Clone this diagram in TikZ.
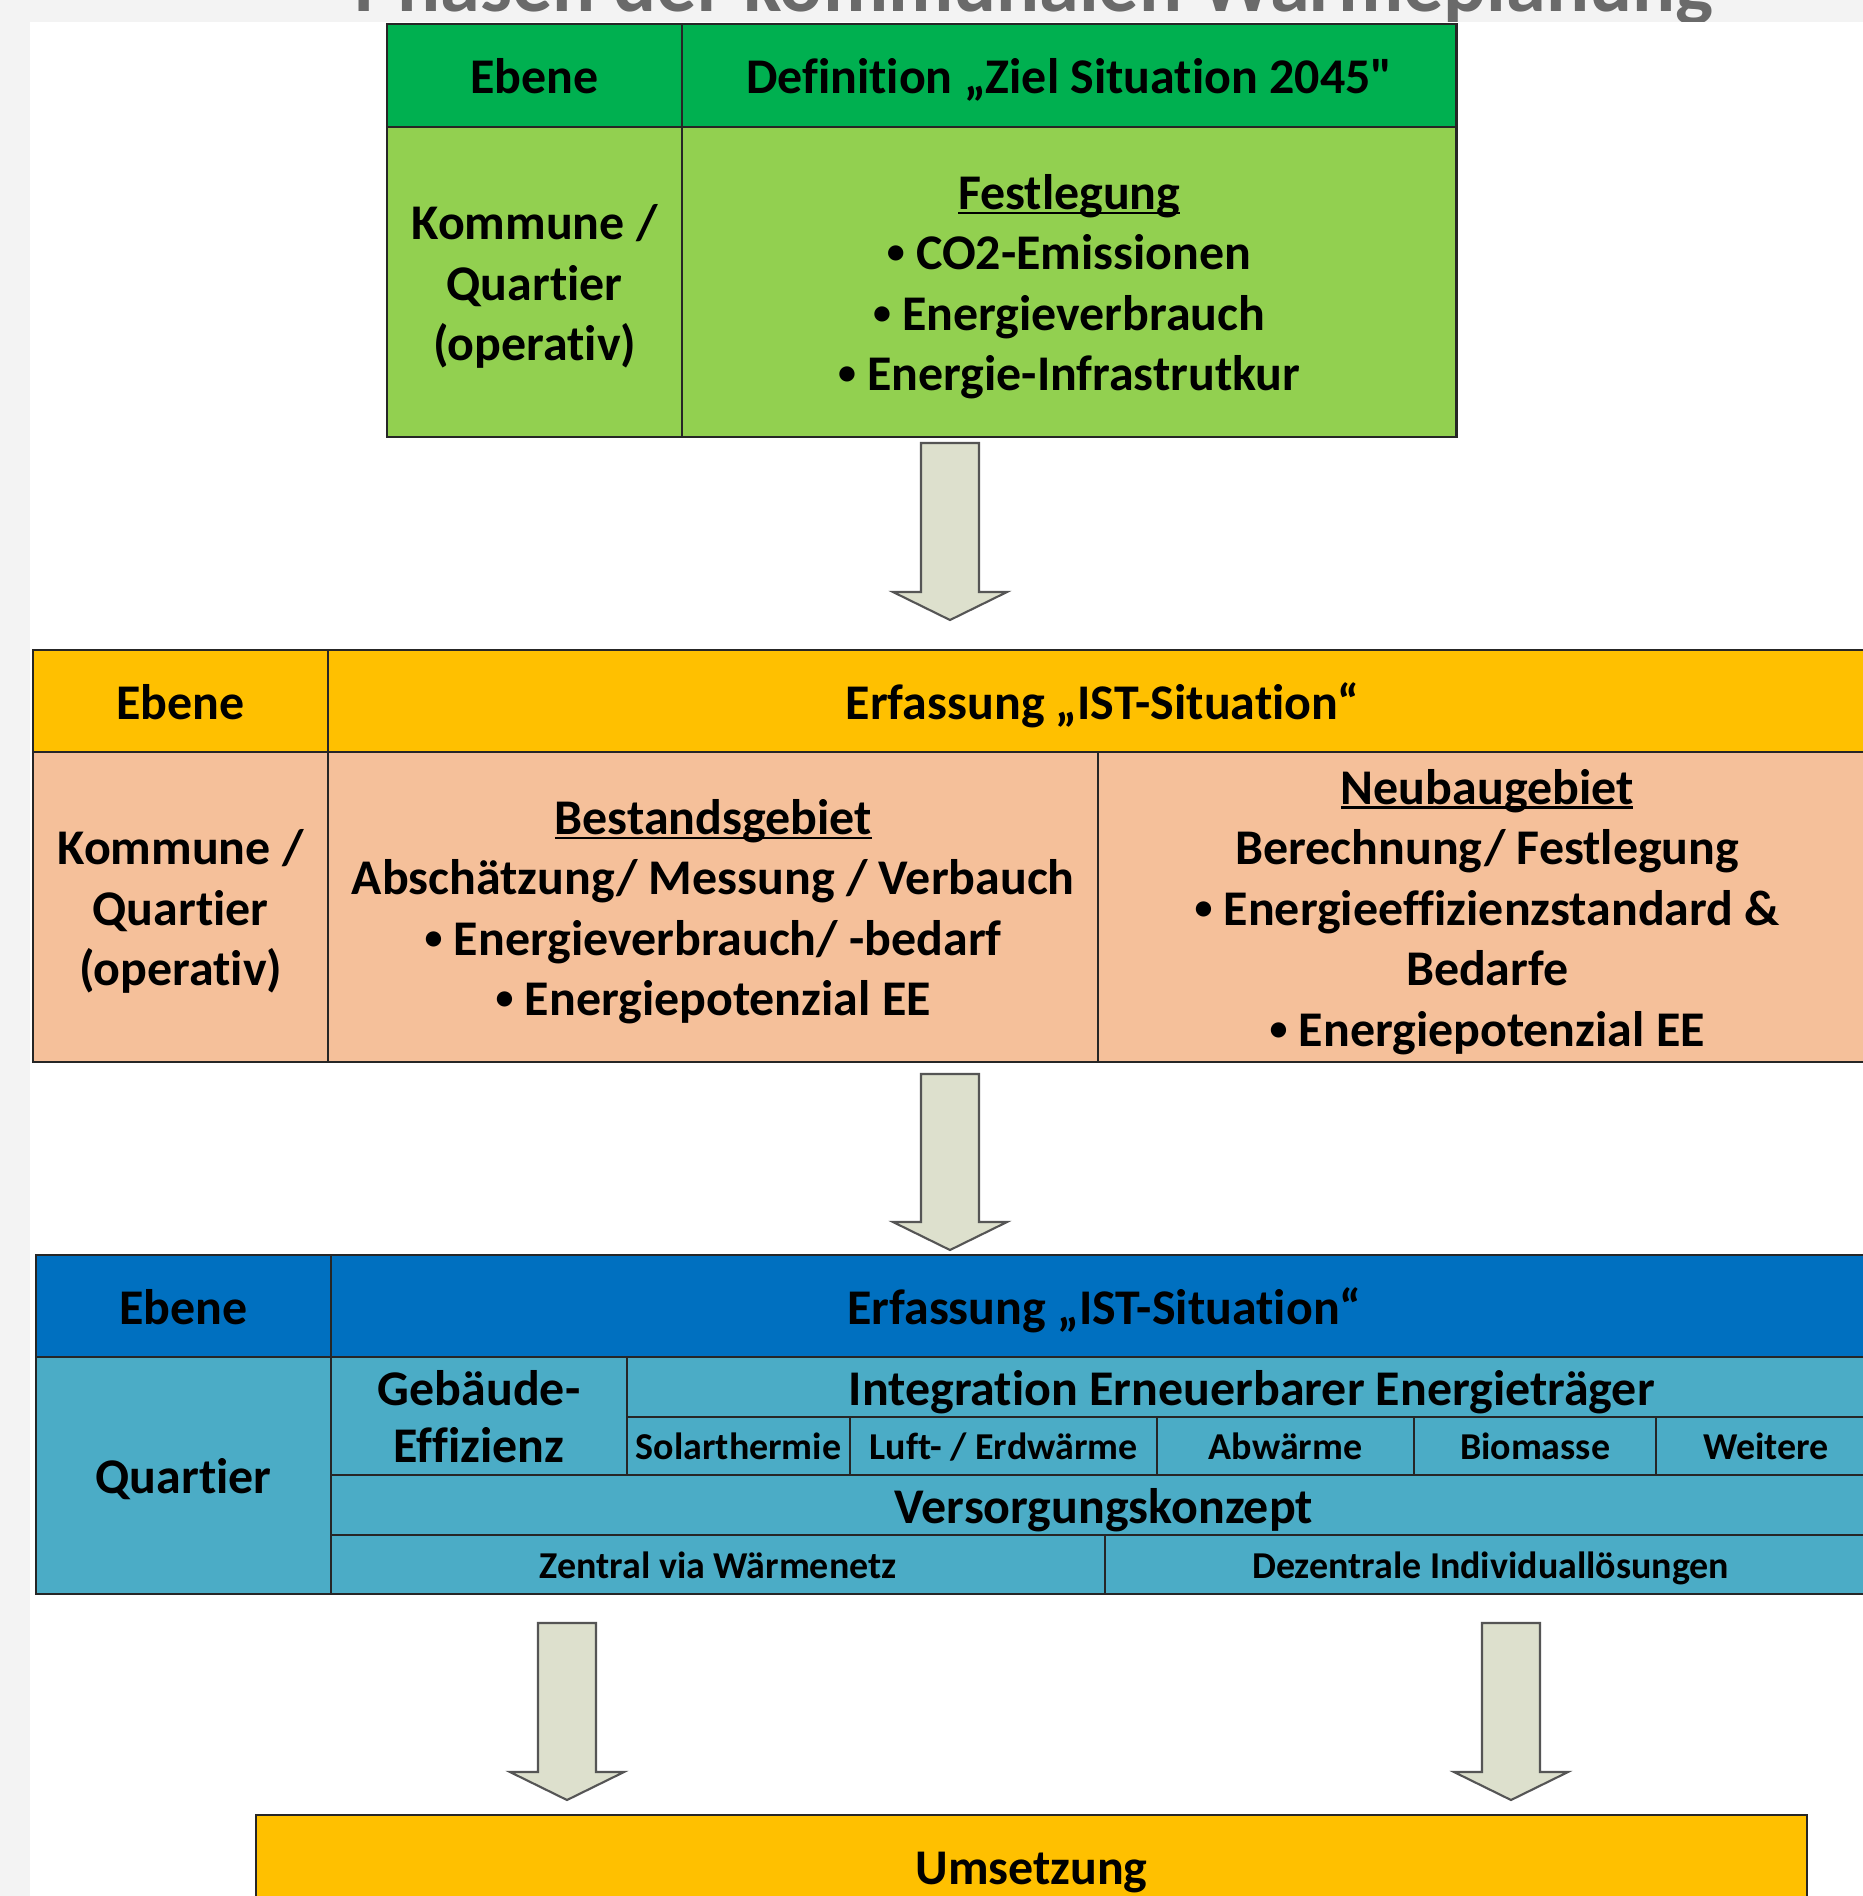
\documentclass[tikz,border=0pt]{standalone}
\usepackage{fontspec}
\usepackage{graphicx}
\newfontfamily\calibri{Carlito}[Ligatures=CommonOff]
\usetikzlibrary{calc}
\definecolor{pagegray}{HTML}{F3F3F3}
\definecolor{titlegray}{HTML}{6A6A6A}
\definecolor{cellline}{HTML}{262626}
\definecolor{gHead}{HTML}{00B050}
\definecolor{gBody}{HTML}{92D050}
\definecolor{oHead}{HTML}{FFC000}
\definecolor{oBody}{HTML}{F5C09A}
\definecolor{bHead}{HTML}{0070C0}
\definecolor{bBody}{HTML}{4BACC6}
\definecolor{arrfill}{HTML}{DDE0CD}
\definecolor{arrline}{HTML}{555555}
% struts so that every line sits on the same baseline
\newcommand{\cstrut}{\rule[-0.242em]{0pt}{1.207em}}
\newcommand{\topstrut}{\rule{0pt}{0.965em}}
\newcommand{\botstrut}{\rule[-0.242em]{0pt}{0.242em}}
\newcommand{\blt}{\raisebox{0.12em}{\scalebox{0.72}{\textbullet}}\ }
\newcommand{\undl}[1]{\setbox0\hbox{#1}\rlap{\rule[-0.1em]{\wd0}{0.055em}}\box0}

\begin{document}
\begin{tikzpicture}[x=0.01cm,y=-0.01cm,
  cell/.style={draw=cellline,line width=0.7pt,inner sep=0pt,outer sep=0pt,
    anchor=north west,align=center,
    font=\calibri\bfseries\fontsize{14.2pt}{17.2pt}\selectfont,
    execute at begin node=\cstrut,execute at end node=\cstrut},
  subcell/.style={font=\calibri\bfseries\fontsize{10.8pt}{13pt}\selectfont},
  bigarrow/.style={draw=arrline,fill=arrfill,line width=0.6pt,
    to path={($(\tikztostart)+(-29,0)$) -- ($(\tikztotarget)+(-29,-28)$)
      -- ($(\tikztotarget)+(-57,-28)$) -- (\tikztotarget)
      -- ($(\tikztotarget)+(57,-28)$) -- ($(\tikztotarget)+(29,-28)$)
      -- ($(\tikztostart)+(29,0)$) -- cycle}}]
  \useasboundingbox (0,0) rectangle (1863,1896);
  \clip (0,0) rectangle (1863,1896);
  \fill[pagegray] (0,0) rectangle (1863,1896);
  \node[font=\calibri\bfseries\fontsize{22.8pt}{27pt}\selectfont,text=titlegray,
        anchor=base,inner sep=0pt] (ttl) at (1034,11)
       {Phasen der kommunalen Wärmeplanung};
  \fill[white] (30,22) rectangle (1863,1896);

  % Ziel 2045
  \node[cell,fill=gHead,minimum width=2.95cm,minimum height=1.03cm] (g-eb) at (387,24) {Ebene};
  \node[cell,fill=gHead,minimum width=7.74cm,minimum height=1.03cm] (g-def) at (682,24)
       {Definition „Ziel Situation 2045"};
  \node[cell,fill=gBody,minimum width=2.95cm,minimum height=3.10cm] (g-lev) at (387,127)
       {\topstrut Kommune /\\Quartier\\(operativ)\botstrut};
  \node[cell,fill=gBody,minimum width=7.74cm,minimum height=3.10cm] (g-fest) at (682,127)
       {\topstrut\undl{Festlegung}\\\blt CO2-Emissionen\\\blt Energieverbrauch\\
        \blt Energie-Infrastrutkur\botstrut};

  % IST-Situation
  \node[cell,fill=oHead,minimum width=2.95cm,minimum height=1.02cm] (o-eb) at (33,650) {Ebene};
  \node[cell,fill=oHead,minimum width=15.48cm,minimum height=1.02cm] (o-erf) at (328,650)
       {Erfassung „IST-Situation“};
  \node[cell,fill=oBody,minimum width=2.95cm,minimum height=3.10cm] (o-lev) at (33,752)
       {\topstrut Kommune /\\Quartier\\(operativ)\botstrut};
  \node[cell,fill=oBody,minimum width=7.70cm,minimum height=3.10cm] (o-best) at (328,752)
       {\topstrut\undl{Bestandsgebiet}\\Abschätzung/ Messung / Verbauch\\
        \blt Energieverbrauch/ -bedarf\\\blt Energiepotenzial EE\botstrut};
  \node[cell,fill=oBody,minimum width=7.78cm,minimum height=3.10cm] (o-neu) at (1098,752)
       {\topstrut\undl{Neubaugebiet}\\Berechnung/ Festlegung\\
        \blt Energieeffizienzstandard \&\\Bedarfe\\\blt Energiepotenzial EE\botstrut};

  % Quartier
  \node[cell,fill=bHead,minimum width=2.95cm,minimum height=1.02cm] (b-eb) at (36,1255) {Ebene};
  \node[cell,fill=bHead,minimum width=15.45cm,minimum height=1.02cm] (b-erf) at (331,1255)
       {Erfassung „IST-Situation“};
  \node[cell,fill=bBody,minimum width=2.95cm,minimum height=2.37cm] (b-lev) at (36,1357) {Quartier};
  \node[cell,fill=bBody,minimum width=2.96cm,minimum height=1.18cm,
        font=\calibri\bfseries\fontsize{14.2pt}{16.4pt}\selectfont] (b-geb) at (331,1357)
       {\topstrut Gebäude-\\Effizienz\botstrut};
  \node[cell,fill=bBody,minimum width=12.49cm,minimum height=0.60cm] (b-int) at (627,1357)
       {Integration Erneuerbarer Energieträger};
  \node[cell,subcell,fill=bBody,minimum width=2.23cm,minimum height=0.58cm] (b-sol) at (627,1417) {Solarthermie};
  \node[cell,subcell,fill=bBody,minimum width=3.07cm,minimum height=0.58cm] (b-luft) at (850,1417) {Luft- / Erdwärme};
  \node[cell,subcell,fill=bBody,minimum width=2.57cm,minimum height=0.58cm] (b-abw) at (1157,1417) {Abwärme};
  \node[cell,subcell,fill=bBody,minimum width=2.42cm,minimum height=0.58cm] (b-bio) at (1414,1417) {Biomasse};
  \node[cell,subcell,fill=bBody,minimum width=2.20cm,minimum height=0.58cm] (b-wei) at (1656,1417) {Weitere};
  \node[cell,fill=bBody,minimum width=15.45cm,minimum height=0.60cm] (b-vers) at (331,1475)
       {Versorgungskonzept};
  \node[cell,subcell,fill=bBody,minimum width=7.74cm,minimum height=0.59cm] (b-zen) at (331,1535)
       {Zentral via Wärmenetz};
  \node[cell,subcell,fill=bBody,minimum width=7.71cm,minimum height=0.59cm] (b-dez) at (1105,1535)
       {Dezentrale Individuallösungen};

  \node[cell,fill=oHead,minimum width=15.50cm,minimum height=1.02cm] (ums) at (256,1815) {Umsetzung};

  % block arrows
  \coordinate (a1s) at (950,443);  \coordinate (a1e) at (950,620);
  \coordinate (a2s) at (950,1074); \coordinate (a2e) at (950,1250);
  \coordinate (a3s) at (567,1623); \coordinate (a3e) at (567,1800);
  \coordinate (a4s) at (1511,1623); \coordinate (a4e) at (1511,1800);
  \draw[bigarrow] (a1s) to (a1e);
  \draw[bigarrow] (a2s) to (a2e);
  \draw[bigarrow] (a3s) to (a3e);
  \draw[bigarrow] (a4s) to (a4e);
\end{tikzpicture}
\end{document}
